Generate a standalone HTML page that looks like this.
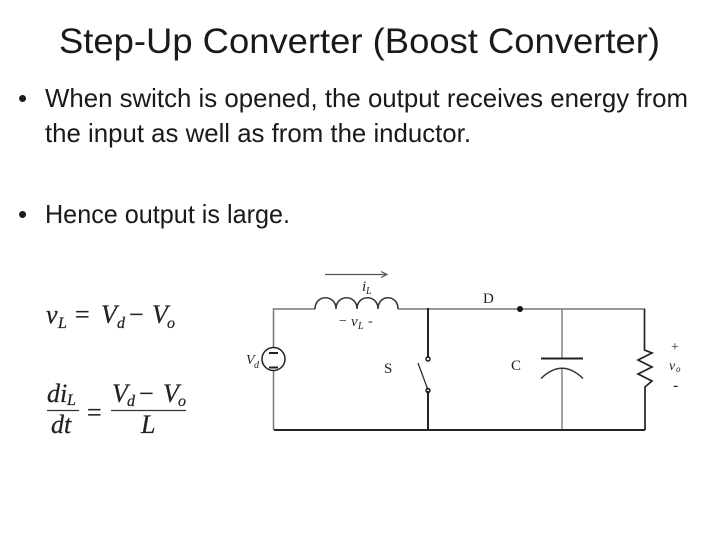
<!DOCTYPE html>
<html><head><meta charset="utf-8"><style>
html,body{margin:0;padding:0;background:#fff;width:720px;height:540px;overflow:hidden}
svg{display:block}
.s{font-family:"Liberation Sans",sans-serif;fill:#1a1a1a}
.m{font-family:"Liberation Serif",serif;fill:#222}
.i{font-style:italic}
</style></head><body>
<svg width="720" height="540" viewBox="0 0 720 540" xmlns="http://www.w3.org/2000/svg">
<text class="s" x="59" y="53" font-size="35" textLength="601" lengthAdjust="spacingAndGlyphs">Step-Up Converter (Boost Converter)</text>
<text class="s" x="18" y="107" font-size="26">•</text>
<text class="s" x="45" y="107" font-size="26" textLength="643" lengthAdjust="spacingAndGlyphs">When switch is opened, the output receives energy from</text>
<text class="s" x="45" y="142" font-size="26" textLength="426" lengthAdjust="spacingAndGlyphs">the input as well as from the inductor.</text>
<text class="s" x="18" y="223" font-size="26">•</text>
<text class="s" x="45" y="223" font-size="26" textLength="245" lengthAdjust="spacingAndGlyphs">Hence output is large.</text>

<!-- equations -->
<g class="m" font-size="26" stroke="#222" stroke-width="0.250">
<text class="i" x="46" y="323">v</text><text class="i" x="58" y="328" font-size="16">L</text>
<text x="75" y="323">=</text>
<text class="i" x="101" y="323">V</text><text class="i" x="117" y="328" font-size="16">d</text>
<text x="129" y="323">−</text>
<text class="i" x="152" y="323">V</text><text class="i" x="167" y="328" font-size="16">o</text>
<text class="i" x="47" y="402">d</text><text class="i" x="60" y="402">i</text><text class="i" x="67" y="405" font-size="16">L</text>
<text class="i" x="51" y="433">d</text><text class="i" x="64" y="433">t</text>
<text x="87" y="421">=</text>
<text class="i" x="112" y="402">V</text><text class="i" x="127" y="406" font-size="16">d</text>
<text x="139" y="402">−</text>
<text class="i" x="163" y="402">V</text><text class="i" x="178" y="406" font-size="16">o</text>
<text class="i" x="141" y="433">L</text>
</g>
<path d="M47 410.500H79M111 410.500H186" stroke="#333" stroke-width="1.300" fill="none"/>

<!-- circuit -->
<g fill="none" stroke="#555" stroke-width="1.500">
<path d="M325 274.500H387M381 271.500L387 274.500L381 277.500" stroke-width="1.200"/>
<path d="M273.500 359V309H315M398 309H428L520 309H645" stroke="#777"/>
<path d="M315 309C315 294 336 294 336 309C336 294 357 294 357 309C357 294 378 294 378 309C378 294 398 294 398 309" stroke="#333"/>
<path d="M273.500 359V430" stroke="#777"/>
<path d="M562 309V358M562 369V430" stroke="#666" stroke-width="1.200"/>
<path d="M541 378.500Q562 358 583 378.500" stroke="#333"/>
</g>
<g fill="none" stroke="#222" stroke-width="1.500">
<circle cx="273.500" cy="359" r="11.500" fill="#fff"/>
<path d="M269 353H278M269 367.500H278" stroke-width="2"/>
<path d="M428 308V358M428 391V430" stroke-width="2"/>
<path d="M418 363L428 390" stroke-width="1.200"/>
<circle cx="428" cy="359" r="2"/><circle cx="428" cy="390.500" r="2"/>
<path d="M274 430H645" stroke-width="2"/>
<path d="M541 358.500H583" stroke-width="2"/>
<path d="M644.500 309V350L652 353L638 360L652 367L638 374L652 381L645 387V430" stroke-width="1.700"/>
</g>
<circle cx="520" cy="309" r="3" fill="#111"/>
<g class="m" font-size="14">
<text class="i" x="362" y="291" font-size="15">i</text><text class="i" x="366" y="294" font-size="10">L</text>
<text x="339" y="325">−</text><text class="i" x="351" y="326" font-size="15">v</text><text class="i" x="358" y="329" font-size="10">L</text><text x="368" y="325">-</text>
<text class="i" x="246" y="364" font-size="14">V</text><text class="i" x="254" y="368" font-size="10">d</text>
<text x="384" y="373" font-size="15">S</text>
<text x="483" y="303" font-size="15">D</text>
<text x="511" y="370" font-size="15">C</text>
<text x="671" y="351" font-size="14">+</text>
<text class="i" x="669" y="370" font-size="14">v</text><text class="i" x="676" y="372" font-size="9">o</text>
<text x="673" y="390" font-size="16">-</text>
</g>
</svg>
</body></html>
